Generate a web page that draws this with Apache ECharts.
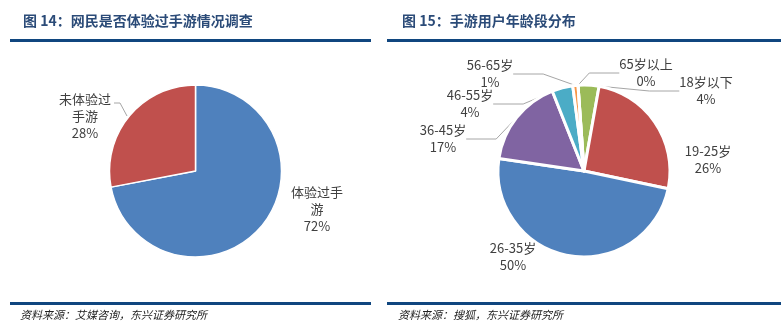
<!DOCTYPE html>
<html>
<head>
<meta charset="utf-8">
<script src="https://cdn.jsdelivr.net/npm/echarts@6/dist/echarts.min.js"></script>
<style>
  html, body { margin: 0; padding: 0; background: #fff; }
  #chart { width: 781px; height: 327px; }
</style>
</head>
<body>
<div id="chart"></div>
<script>
// 图 14: 网民是否体验过手游
const playCategories = ['体验过手游', '未体验过手游'];
const playValues = [72, 28];

// 图 15: 手游用户年龄段分布
const ageCategories = ['18岁以下', '19-25岁', '26-35岁', '36-45岁', '46-55岁', '56-65岁', '65岁以上'];
const ageValues = [4, 26, 50, 17, 4, 1, 0];

const titleLeft = '图 14：网民是否体验过手游情况调查';
const titleRight = '图 15：手游用户年龄段分布';
const sourceLeft = '资料来源：艾媒咨询，东兴证券研究所';
const sourceRight = '资料来源：搜狐，东兴证券研究所';

// label anchor points (centre of each text block) for both pies
const playLabelPos = [[317, 209], [85, 116]];
const ageLabelPos = [[706, 91], [708, 160], [513, 257], [443, 139], [470, 104], [490, 74], [646, 73]];
const playLineShown = [false, true];
const ageLineShown = [true, false, false, true, true, true, true];
// guide line of the "未体验过手游" label: text end -> elbow -> slice edge
const playGuide = [[114, 103], [120, 103], [127, 116]];

const PIE_COLORS_LEFT = ['#4f81bd', '#c0504d'];
const PIE_COLORS_RIGHT = ['#9bbb59', '#c0504d', '#4f81bd', '#8064a2', '#4bacc6', '#f79646', '#2c4d75'];

const NAVY = '#10467f';
const TEXT = '#404040';
const CJK = '"Noto Sans CJK SC", "Noto Sans", sans-serif';

function pieData(names, values, colors, lines) {
  return names.map((n, i) => ({
    name: n,
    value: values[i],
    itemStyle: { color: colors[i] },
    labelLine: { show: lines[i] }
  }));
}

const labelStyle = {
  show: true,
  color: TEXT,
  fontSize: 13,
  lineHeight: 17,
  fontFamily: CJK,
  formatter: p => p.name + '\n' + p.value + '%'
};

const chart = echarts.init(document.getElementById('chart'), null, { renderer: 'canvas' });

chart.setOption({
  backgroundColor: '#fff',
  animation: false,
  title: [
    { text: titleLeft, left: 18, top: 9, textStyle: { fontSize: 14, fontWeight: 'bold', color: '#2b4b78', fontFamily: CJK } },
    { text: titleRight, left: 397, top: 9, textStyle: { fontSize: 14, fontWeight: 'bold', color: '#2b4b78', fontFamily: CJK } }
  ],
  graphic: [
    { type: 'rect', shape: { x: 10, y: 39, width: 361, height: 3 }, style: { fill: NAVY } },
    { type: 'rect', shape: { x: 387, y: 39, width: 394, height: 3 }, style: { fill: NAVY } },
    { type: 'rect', shape: { x: 10, y: 302, width: 361, height: 3 }, style: { fill: NAVY } },
    { type: 'rect', shape: { x: 387, y: 302, width: 394, height: 3 }, style: { fill: NAVY } },
    { type: 'text', left: 20, top: 309, style: { text: sourceLeft, fill: '#222', font: 'italic 11px ' + CJK } },
    { type: 'text', left: 398, top: 309, style: { text: sourceRight, fill: '#222', font: 'italic 11px ' + CJK } }
  ],
  series: [
    {
      type: 'pie',
      center: [195.5, 171],
      radius: 86,
      startAngle: 90,
      clockwise: true,
      data: pieData(playCategories, playValues, PIE_COLORS_LEFT, playLineShown),
      itemStyle: { borderColor: '#fff', borderWidth: 1.5 },
      label: Object.assign({}, labelStyle, { width: 56, overflow: 'break' }),
      labelLine: { lineStyle: { color: '#a6a6a6', width: 1 } },
      labelLayout: p => {
        const out = { x: playLabelPos[p.dataIndex][0], y: playLabelPos[p.dataIndex][1], align: 'center', verticalAlign: 'middle' };
        if (playLineShown[p.dataIndex]) out.labelLinePoints = playGuide;
        return out;
      },
      emphasis: { disabled: true }
    },
    {
      type: 'pie',
      center: [584, 171],
      radius: 86,
      startAngle: 94,
      clockwise: true,
      data: pieData(ageCategories, ageValues, PIE_COLORS_RIGHT, ageLineShown),
      itemStyle: { borderColor: '#fff', borderWidth: 3 },
      label: labelStyle,
      labelLine: { lineStyle: { color: '#a6a6a6', width: 1 } },
      labelLayout: p => ({ x: ageLabelPos[p.dataIndex][0], y: ageLabelPos[p.dataIndex][1], align: 'center', verticalAlign: 'middle' }),
      emphasis: { disabled: true }
    }
  ]
});
</script>
</body>
</html>
